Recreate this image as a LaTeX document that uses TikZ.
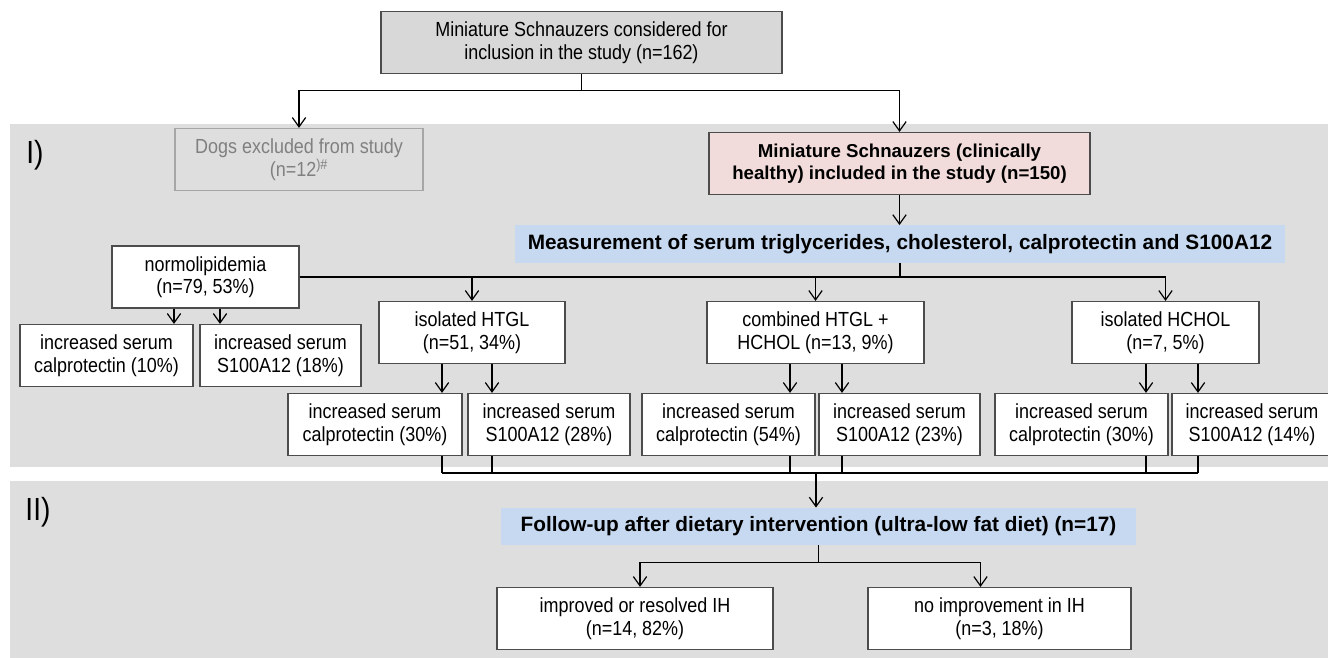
\documentclass[tikz,border=0pt]{standalone}
\usepackage{fontspec}
\setmainfont{Liberation Sans}[FakeStretch=0.88]
\newfontfamily\boldsans{Liberation Sans}
\usetikzlibrary{arrows.meta,calc}
\usepackage{xcolor}

\definecolor{bandgray}{RGB}{222,222,222}
\definecolor{topgray}{RGB}{216,216,216}
\definecolor{pinkfill}{RGB}{242,220,219}
\definecolor{bluefill}{RGB}{198,217,240}
\definecolor{exclgray}{RGB}{128,128,128}

\tikzset{
  box/.style={draw=black!70, line width=0.9pt, fill=white, align=center, inner sep=0pt,
    minimum width=#1*0.75pt, minimum height=46.5pt, font=\fontsize{15.3}{16.9}\selectfont},
  band/.style={fill=bluefill, inner sep=0pt, minimum width=#1*0.75pt, minimum height=28pt,
    font=\boldsans\bfseries\fontsize{15.6}{18}\selectfont},
  arr/.style={-{Straight Barb[length=7pt,width=10pt]}, line width=0.9pt},
  link/.style={line width=0.9pt},
  phase/.style={font=\fontsize{24}{26}\selectfont},
}

\begin{document}
\begin{tikzpicture}[x=0.75pt, y=-0.75pt]
    \clip (0,0) rectangle (1328,657);

    % Phase backgrounds
    \fill[bandgray] (10,124) rectangle (1332,467);
    \fill[bandgray] (10,481) rectangle (1332,660);
    \node[phase] (lab1) at (35,155) {I)};
    \node[phase] (lab2) at (38,512) {II)};

    % Screening
    \node[box=401, fill=topgray] (top) at (581.5,42.5)
        {Miniature Schnauzers considered for\\inclusion in the study (n=162)};
    \node[box=248, fill=none, draw=black!35, text=exclgray] (excl) at (299,159.5)
        {Dogs excluded from study\\(n=12\textsuperscript{)\#}};
    \node[box=381, fill=pinkfill, font=\boldsans\bfseries\fontsize{14}{16.9}\selectfont] (incl) at (899.5,163.5)
        {Miniature Schnauzers (clinically\\healthy) included in the study (n=150)};
    \node[band=770] (meas) at (900,244)
        {Measurement of serum triglycerides, cholesterol, calprotectin and S100A12};

    \draw[arr] (top.south) -- ++(0,16) -| (excl.north);
    \draw[arr] (top.south) -- ++(0,16) -| (incl.north);
    \draw[arr] (incl.south) -- (incl.south |- meas.north);

    % Lipid groups
    \node[box=187] (normo) at (205.5,277) {normolipidemia\\(n=79, 53\%)};
    \node[box=186] (htgl) at (472,332.5) {isolated HTGL\\(n=51, 34\%)};
    \node[box=217] (comb) at (815.5,332.5) {combined HTGL +\\HCHOL (n=13, 9\%)};
    \node[box=187] (hchol) at (1165.5,332.5) {isolated HCHOL\\(n=7, 5\%)};

    \draw[link] (meas.south) -- (meas.south |- normo.east);
    \draw[link] (normo.east) -- (normo.east -| hchol.north);
    \draw[arr] (normo.east -| htgl.north) -- (htgl.north);
    \draw[arr] (normo.east -| comb.north) -- (comb.north);
    \draw[arr] (normo.east -| hchol.north) -- (hchol.north);

    % Markers
    \node[box=173] (n1) at (106.5,355.5) {increased serum\\calprotectin (10\%)};
    \node[box=161] (n2) at (280.5,355.5) {increased serum\\S100A12 (18\%)};
    \node[box=174] (h1) at (375,424.5) {increased serum\\calprotectin (30\%)};
    \node[box=162] (h2) at (549,424.5) {increased serum\\S100A12 (28\%)};
    \node[box=173] (c1) at (728.5,424.5) {increased serum\\calprotectin (54\%)};
    \node[box=161] (c2) at (899.5,424.5) {increased serum\\S100A12 (23\%)};
    \node[box=173] (i1) at (1081.5,424.5) {increased serum\\calprotectin (30\%)};
    \node[box=160] (i2) at (1252,424.5) {increased serum\\S100A12 (14\%)};

    \foreach \b/\p/\x in {n1/normo/174, n2/normo/220, h1/htgl/442, h2/htgl/492,
                          c1/comb/790, c2/comb/842, i1/hchol/1146, i2/hchol/1198} {
        \path (\x,0) coordinate (d\b);
        \draw[arr] (\p.south -| d\b) -- (\b.north -| d\b);
    }

    % Follow-up
    \coordinate (bus) at (816,473);
    \foreach \b in {h1,h2,c1,c2,i1,i2}
        \draw[link] (\b.south -| d\b) -- (bus -| d\b);
    \draw[link] (bus -| dh1) -- (bus -| di2);

    \node[band=635] (fu) at (818.5,526.5)
        {Follow-up after dietary intervention (ultra-low fat diet) (n=17)};
    \draw[arr] (bus) -- (bus |- fu.north);

    \node[box=276] (impr) at (635,618.5) {improved or resolved IH\\(n=14, 82\%)};
    \node[box=263] (noimp) at (999.5,618.5) {no improvement in IH\\(n=3, 18\%)};
    \draw[arr] (fu.south) -- ++(0,17) -| ($(impr.north)+(5,0)$);
    \draw[arr] (fu.south) -- ++(0,17) -| ($(noimp.north)+(-19,0)$);
\end{tikzpicture}
\end{document}
